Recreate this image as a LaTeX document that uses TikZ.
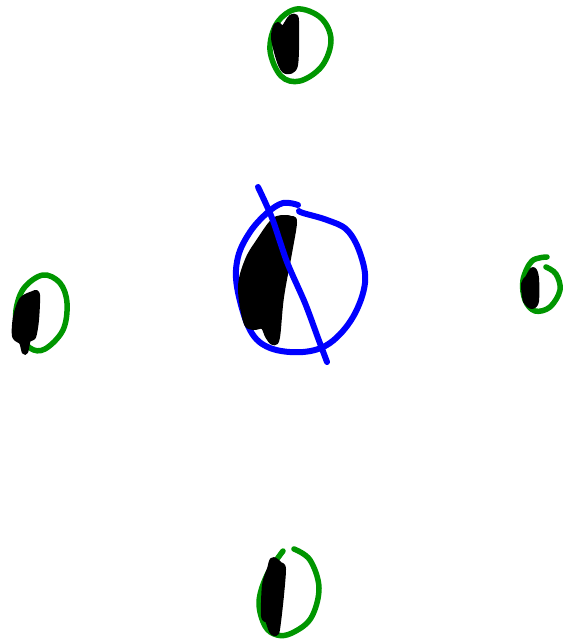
\documentclass[tikz,border=0pt]{standalone}
\definecolor{penblue}{RGB}{0,0,255}
\definecolor{pengreen}{RGB}{0,150,0}
\tikzset{
  bluestroke/.style={draw=penblue,line width=6pt,line cap=round,line join=round},
  greenstroke/.style={draw=pengreen,line width=5.5pt,line cap=round,line join=round},
  blackblob/.style={draw=black,fill=black,line width=6pt,line cap=round,line join=round}
}
\begin{document}
\begin{tikzpicture}[x=1pt,y=-1pt]
\useasboundingbox (0,0) rectangle (568,644);
% central blue circle
\draw[bluestroke] plot[smooth,tension=0.6] coordinates {(298,205) (283,203) (267,213) (250,232) (238,257) (237,287) (250,330) (270,348) (303,352) (330,343) (353,317) (365,283) (360,253) (347,230) (327,220) (303,213) (299,211)};
% central black scribble
\draw[blackblob] plot[smooth cycle,tension=0.6] coordinates {(291,219) (294,223) (289,253) (281,297) (277,337) (273,342) (268,336) (263,326) (253,327) (246,321) (241,287) (248,260) (260,240) (273,222) (282,218)};
% blue diagonal line
\draw[bluestroke] plot[smooth,tension=0.5] coordinates {(258,187) (272,218) (287,262) (305,303) (318,338) (327,362)};
% top
\draw[greenstroke] plot[smooth cycle,tension=0.6] coordinates {(297,9) (321,18) (331,40) (322,66) (300,81) (281,76) (270,50) (277,23)};
\draw[blackblob] plot[smooth cycle,tension=0.5] coordinates {(293,17) (296,21) (295,65) (286,71) (280,62) (274,38) (277,25) (283,29) (290,19)};
% left
\draw[greenstroke] plot[smooth cycle,tension=0.6] coordinates {(43,275) (60,283) (67,303) (63,330) (45,349) (30,348) (18,330) (16,310) (24,288)};
\draw[blackblob] plot[smooth cycle,tension=0.5] coordinates {(33,294) (37,295) (36,320) (33,337) (28,339) (25,352) (22,342) (15,336) (16,317) (22,300)};
% right
\draw[greenstroke] plot[smooth,tension=0.6] coordinates {(547,257) (532,261) (523,280) (525,300) (535,311) (550,307) (560,290) (556,274) (546,267)};
\draw[blackblob] plot[smooth cycle,tension=0.5] coordinates {(533,270) (536,278) (536,301) (532,306) (526,301) (524,284) (528,278)};
% bottom
\draw[greenstroke] plot[smooth,tension=0.6] coordinates {(283,551) (267,575) (259,602) (265,626) (277,635) (292,633) (311,618) (319,588) (310,560) (294,549)};
\draw[blackblob] plot[smooth cycle,tension=0.5] coordinates {(273,560) (280,565) (283,569) (281,595) (278,622) (276,633) (272,631) (268,620) (264,616) (265,585) (270,569)};
\end{tikzpicture}
\end{document}
